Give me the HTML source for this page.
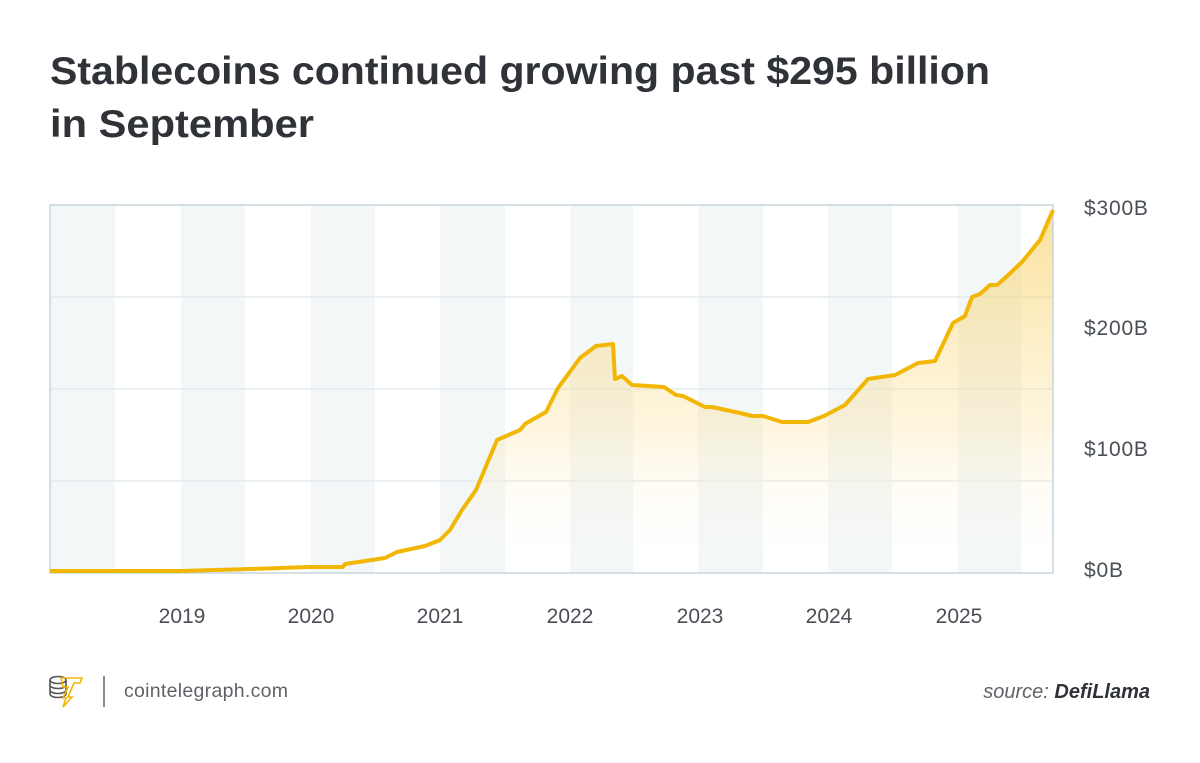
<!DOCTYPE html>
<html><head><meta charset="utf-8"><style>
body{margin:0;width:1200px;height:758px;background:#fff;overflow:hidden;font-family:"Liberation Sans",sans-serif;}
</style></head><body>
<svg width="1200" height="758" xmlns="http://www.w3.org/2000/svg">
<defs><linearGradient id="g" x1="0" y1="0" x2="0" y2="1">
<stop offset="0" stop-color="#f7c948" stop-opacity="0.55"/>
<stop offset="0.6" stop-color="#fbe3a0" stop-opacity="0.35"/>
<stop offset="1" stop-color="#fff" stop-opacity="0"/></linearGradient></defs>
<text x="50" y="84" font-size="39" font-weight="bold" fill="#2f3338" textLength="940" lengthAdjust="spacingAndGlyphs">Stablecoins continued growing past $295 billion</text>
<text x="50" y="137" font-size="39" font-weight="bold" fill="#2f3338" textLength="264" lengthAdjust="spacingAndGlyphs">in September</text>
<g fill="#f3f7f8">
<rect x="50" y="205" width="65" height="368"/><rect x="181" y="205" width="64" height="368"/>
<rect x="311" y="205" width="64" height="368"/><rect x="440" y="205" width="65" height="368"/>
<rect x="570" y="205" width="63" height="368"/><rect x="698" y="205" width="65" height="368"/>
<rect x="828" y="205" width="64" height="368"/><rect x="958" y="205" width="63" height="368"/>
</g>
<g stroke="#e3ecef" stroke-width="1.5"><line x1="50" x2="1053" y1="297" y2="297"/><line x1="50" x2="1053" y1="389" y2="389"/><line x1="50" x2="1053" y1="481" y2="481"/></g>
<polygon fill="url(#g)" points="50,571 180,571 250,569 310,567 343,567 345,564 385,558 397,552 425,546 440,540 450,530 462,510 476,490 497,440 520,430 525,424 530,421 546,412 558,388 580,358 596,346 613,344 615,379 622,376 632,385 664,387 676,395 683,396 705,407 712,407 740,413 752,416 763,416 782,422 808,422 824,416 845,405 868,379 895,375 918,363 935,361 953,323 965,316 972,297 980,294 990,285 997,285 1005,278 1022,262 1040,240 1053,210 1053,573 50,573"/>
<rect x="50" y="205" width="1003" height="368" fill="none" stroke="#c5d5dc" stroke-width="1.5"/>
<polyline fill="none" stroke="#f2b705" stroke-width="4" stroke-linejoin="round" points="50,571 180,571 250,569 310,567 343,567 345,564 385,558 397,552 425,546 440,540 450,530 462,510 476,490 497,440 520,430 525,424 530,421 546,412 558,388 580,358 596,346 613,344 615,379 622,376 632,385 664,387 676,395 683,396 705,407 712,407 740,413 752,416 763,416 782,422 808,422 824,416 845,405 868,379 895,375 918,363 935,361 953,323 965,316 972,297 980,294 990,285 997,285 1005,278 1022,262 1040,240 1053,210"/>
<g font-size="21" fill="#4a4f55" letter-spacing="0.8">
<text x="1084" y="215">$300B</text><text x="1084" y="335">$200B</text><text x="1084" y="456">$100B</text><text x="1084" y="577">$0B</text>
</g>
<g font-size="21" fill="#4a4f55" text-anchor="middle">
<text x="182" y="623">2019</text><text x="311" y="623">2020</text><text x="440" y="623">2021</text><text x="570" y="623">2022</text><text x="700" y="623">2023</text><text x="829" y="623">2024</text><text x="959" y="623">2025</text>
</g>
<g fill="none" stroke="#555" stroke-width="1.6">
<ellipse cx="58" cy="680" rx="8" ry="3.5"/><path d="M50 680v14a8 3.5 0 0 0 16 0v-14M50 685a8 3.5 0 0 0 16 0M50 690a8 3.5 0 0 0 16 0"/>
</g>
<path d="M61 678h21l-2 5h-6l-6 14h4l-9 10 3-9h-3l5-11h-5z" fill="none" stroke="#f2b705" stroke-width="1.6"/>
<line x1="104" y1="676" x2="104" y2="707" stroke="#666" stroke-width="1.5"/>
<text x="124" y="697" font-size="19.5" fill="#5f6368" textLength="164">cointelegraph.com</text>
<text x="1150" y="698" font-size="20" fill="#5f6368" text-anchor="end" font-style="italic">source: <tspan font-weight="bold" fill="#2f3338">DefiLlama</tspan></text>
</svg>
</body></html>
